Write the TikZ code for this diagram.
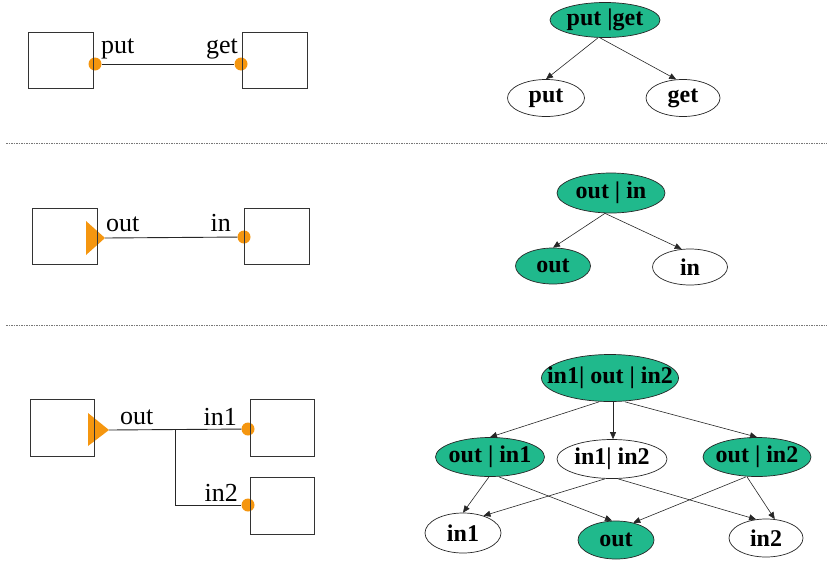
\documentclass[tikz,border=0pt]{standalone}
\usepackage{fontspec}
\setmainfont{Liberation Serif}
\usetikzlibrary{arrows.meta,shapes.geometric}
\definecolor{teal}{RGB}{32,185,140}
\definecolor{port}{RGB}{245,150,15}
\definecolor{sep}{RGB}{120,120,120}
\tikzset{
  comp/.style={draw=black!80, line width=0.9pt},
  portdot/.style={circle, fill=port, inner sep=0pt, minimum size=13pt},
  wire/.style={line width=0.9pt, black!85},
  plabel/.style={font=\fontsize{26}{26}\selectfont, inner sep=0pt},
  % ellipse size is set by minimum width/height only; the label has zero width
  state/.style={ellipse, draw=black!85, line width=0.7pt, inner sep=0pt,
    font=\bfseries\fontsize{24}{24}\selectfont,
    execute at begin node={\hbox to 0pt\bgroup\hss},
    execute at end node={\hss\egroup}},
  stfull/.style={state, fill=teal},
  stempty/.style={state, fill=white},
  arr/.style={-{Triangle[length=7pt,width=6pt]}, line width=0.6pt, black!85},
  separator/.style={sep, line width=0.8pt, dash pattern=on 1.5pt off 1pt},
}
\begin{document}
\begin{tikzpicture}[x=1pt,y=-1pt]
\useasboundingbox (0,0) rectangle (827,560);

% separators
\draw[separator] (6,143) -- (827,143);
\draw[separator] (6,325) -- (827,325);

% ---------- section 1: put / get ----------
\node[portdot] (p1) at (95,64) {};
\node[portdot] (g1) at (241,64) {};
\draw[comp] (28,32) rectangle (93,88);
\draw[comp] (242,32) rectangle (307,88);
\draw[wire] (p1) -- (g1);
\node[plabel, anchor=base west] at (101,53) {put};
\node[plabel, anchor=base east] at (238,53) {get};

\node[stfull, minimum width=110pt, minimum height=35pt] (t1) at (605,20) {put |get};
\node[stempty, minimum width=77pt, minimum height=37pt] (a1) at (546,98) {put};
\node[stempty, minimum width=74pt, minimum height=37pt] (b1) at (683,98) {get};
\draw[arr] ([xshift=-7pt]t1.south) -- (a1.north);
\draw[arr] ([xshift=-5pt]t1.south) -- (b1.110);

% ---------- section 2: out / in ----------
\coordinate (o2) at (105,238);
\node[portdot] (i2) at (244,237) {};
\fill[port] (o2) -- (86,221) -- (86,255) -- cycle;
\draw[comp] (32,208) rectangle (97,264);
\draw[comp] (244,208) rectangle (309,264);
\draw[wire] (o2) -- (i2);
\node[plabel, anchor=base west] at (106,231) {out};
\node[plabel, anchor=base east] at (231,231) {in};

\node[stfull, minimum width=108pt, minimum height=40pt] (t2) at (611,193) {out | in};
\node[stfull, minimum width=75pt, minimum height=36pt] (a2) at (553,266) {out};
\node[stempty, minimum width=75pt, minimum height=36pt] (b2) at (690,267) {in};
\draw[arr] ([xshift=-6pt]t2.south) -- (a2.north);
\draw[arr] ([xshift=-6pt]t2.south) -- (b2.115);

% ---------- section 3: out / in1 / in2 ----------
\coordinate (o3) at (109,430);
\coordinate (j3) at (175,429);
\node[portdot] (i31) at (248,429) {};
\node[portdot] (i32) at (248,505) {};
\fill[port] (o3) -- (88,413) -- (88,446) -- cycle;
\draw[comp] (30,399) rectangle (94,456);
\draw[comp] (250,399) rectangle (314,456);
\draw[comp] (250,477) rectangle (314,534);
\draw[wire] (o3) -- (i31);
\draw[wire] (j3) |- (i32);
\node[plabel, anchor=base west] at (120,424) {out};
\node[plabel, anchor=base east] at (237,425) {in1};
\node[plabel, anchor=base east] at (238,501) {in2};

\node[stfull, minimum width=137pt, minimum height=47pt] (t3) at (610,378) {in1| out | in2};
\node[stfull, minimum width=109pt, minimum height=39pt] (m1) at (490,457) {out | in1};
\node[stempty, minimum width=110pt, minimum height=39pt] (m2) at (612,459) {in1| in2};
\node[stfull, minimum width=108pt, minimum height=39pt] (m3) at (757,457) {out | in2};
\node[stempty, minimum width=76pt, minimum height=40pt] (l1) at (463,533) {in1};
\node[stfull, minimum width=76pt, minimum height=38pt] (l2) at (616,540) {out};
\node[stempty, minimum width=74pt, minimum height=38pt] (l3) at (766,538) {in2};

\draw[arr] ([xshift=-11pt]t3.south) -- (m1.north);
\draw[arr] ([xshift=3pt]t3.south) -- ([xshift=1pt]m2.north);
\draw[arr] ([xshift=15pt]t3.south) -- (m3.north);
\draw[arr] ([xshift=-1pt]m1.south) -- (l1.north);
\draw[arr] ([xshift=9pt]m1.south) -- ([xshift=-4pt]l2.north);
\draw[arr] ([xshift=-7pt]m2.south) -- (l1.40);
\draw[arr] ([xshift=6pt]m2.south) -- (l3.118);
\draw[arr] ([xshift=-11pt]m3.south) -- (l2.45);
\draw[arr] ([xshift=-10pt]m3.south) -- (l3.65);
\end{tikzpicture}
\end{document}
